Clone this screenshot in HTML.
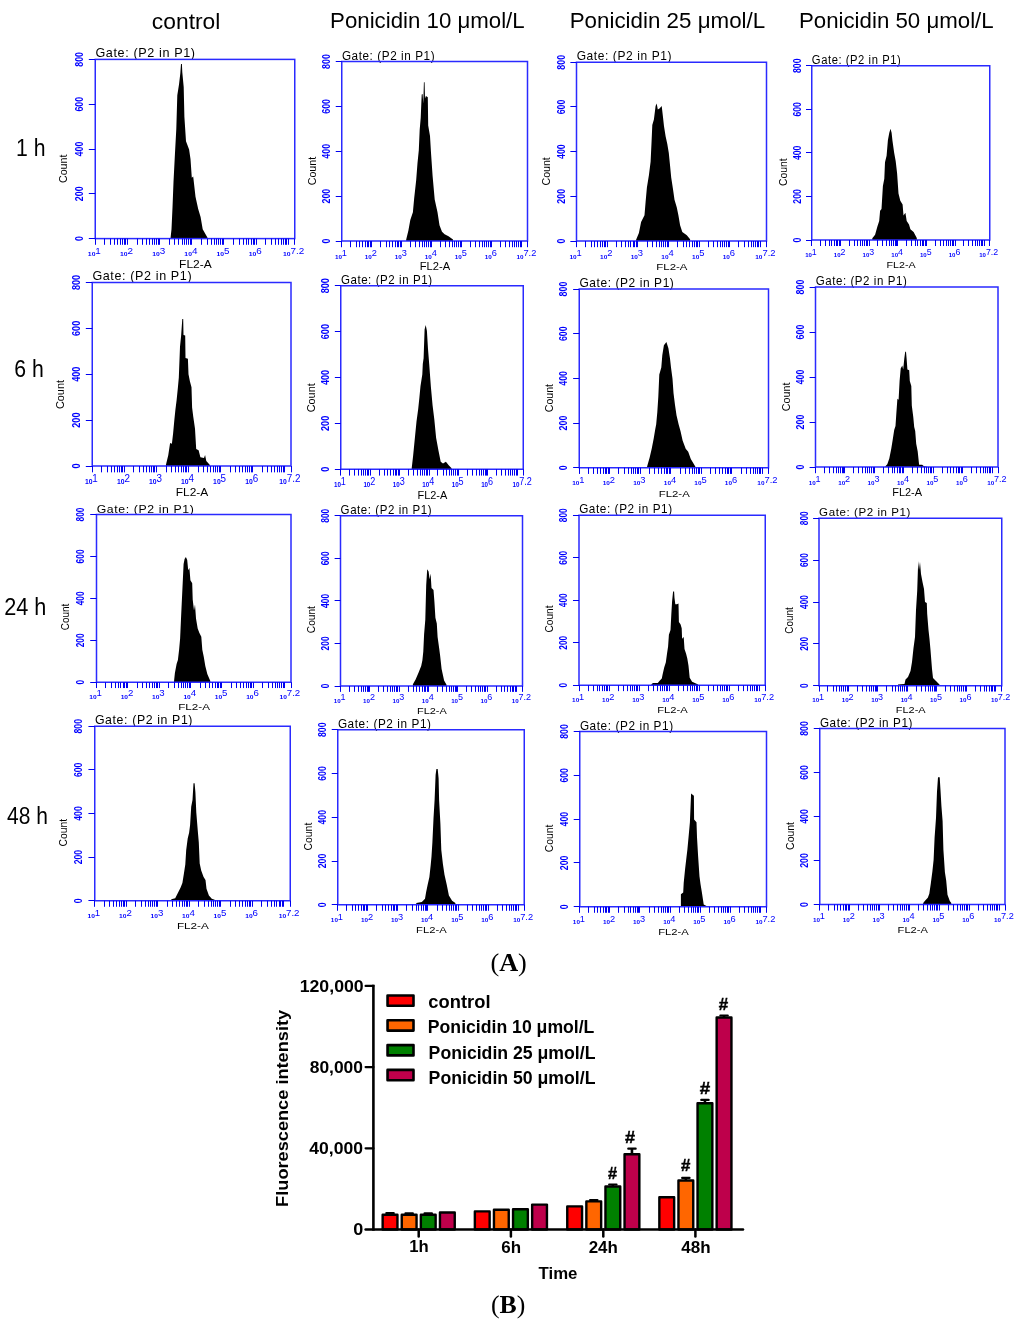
<!DOCTYPE html>
<html><head><meta charset="utf-8"><style>html,body{margin:0;padding:0;background:#fff;width:1024px;height:1329px;overflow:hidden}svg{display:block;will-change:transform}</style></head>
<body><svg width="1024" height="1329" viewBox="0 0 1024 1329" font-family='"Liberation Sans", sans-serif'>
<rect width="1024" height="1329" fill="#fff"/>
<text x="151.89" y="28.7" font-size="22.5" textLength="68.47" lengthAdjust="spacingAndGlyphs">control</text>
<text x="330.05" y="28" font-size="22.5" textLength="194.61" lengthAdjust="spacingAndGlyphs">Ponicidin 10 μmol/L</text>
<text x="569.65" y="28" font-size="22.5" textLength="195.54" lengthAdjust="spacingAndGlyphs">Ponicidin 25 μmol/L</text>
<text x="798.95" y="28" font-size="22.5" textLength="194.72" lengthAdjust="spacingAndGlyphs">Ponicidin 50 μmol/L</text>
<text x="16.01" y="156.2" font-size="23.3" textLength="29.48" lengthAdjust="spacingAndGlyphs">1 h</text>
<text x="14.21" y="376.8" font-size="23.3" textLength="29.53" lengthAdjust="spacingAndGlyphs">6 h</text>
<text x="4.13" y="615.1" font-size="23.3" textLength="42.22" lengthAdjust="spacingAndGlyphs">24 h</text>
<text x="7" y="823.9" font-size="23.3" textLength="40.89" lengthAdjust="spacingAndGlyphs">48 h</text>
<text x="299.67" y="991.6" font-weight="bold" font-size="17" textLength="64.03" lengthAdjust="spacingAndGlyphs">120,000</text>
<text x="309.71" y="1073" font-weight="bold" font-size="17" textLength="53.3" lengthAdjust="spacingAndGlyphs">80,000</text>
<text x="309.3" y="1154" font-weight="bold" font-size="17" textLength="53.72" lengthAdjust="spacingAndGlyphs">40,000</text>
<text x="353.34" y="1235.1" font-weight="bold" font-size="17" textLength="10.04" lengthAdjust="spacingAndGlyphs">0</text>
<text x="428.39" y="1007.8" font-weight="bold" font-size="17.5" textLength="62.12" lengthAdjust="spacingAndGlyphs">control</text>
<text x="427.85" y="1033" font-weight="bold" font-size="17.5" textLength="166.55" lengthAdjust="spacingAndGlyphs">Ponicidin 10 μmol/L</text>
<text x="428.62" y="1059" font-weight="bold" font-size="17.5" textLength="166.87" lengthAdjust="spacingAndGlyphs">Ponicidin 25 μmol/L</text>
<text x="428.62" y="1083.8" font-weight="bold" font-size="17.5" textLength="166.87" lengthAdjust="spacingAndGlyphs">Ponicidin 50 μmol/L</text>
<text x="538.57" y="1278.8" font-weight="bold" font-size="17" textLength="38.89" lengthAdjust="spacingAndGlyphs">Time</text>
<text x="409.29" y="1252.4" font-weight="bold" font-size="17" textLength="19.46" lengthAdjust="spacingAndGlyphs">1h</text>
<text x="501.25" y="1253" font-weight="bold" font-size="17" textLength="19.81" lengthAdjust="spacingAndGlyphs">6h</text>
<text x="588.71" y="1253" font-weight="bold" font-size="17" textLength="29.16" lengthAdjust="spacingAndGlyphs">24h</text>
<text x="681.37" y="1253.1" font-weight="bold" font-size="17" textLength="29.32" lengthAdjust="spacingAndGlyphs">48h</text>
<text transform="translate(287.9 1206.89) rotate(-90)" font-weight="bold" font-size="16.8" textLength="197.06" lengthAdjust="spacingAndGlyphs">Fluorescence intensity</text>
<text x="490.45" y="970.7" font-family='"Liberation Serif", serif' font-weight="bold" font-size="26" textLength="36.43" lengthAdjust="spacingAndGlyphs"><tspan font-weight="normal">(</tspan>A<tspan font-weight="normal">)</tspan></text>
<text x="490.97" y="1312.8" font-family='"Liberation Serif", serif' font-weight="bold" font-size="26" textLength="34.37" lengthAdjust="spacingAndGlyphs"><tspan font-weight="normal">(</tspan>B<tspan font-weight="normal">)</tspan></text>
<text stroke="#000" stroke-width="0.45" x="608" y="1178.55" font-weight="bold" font-size="17" textLength="9.08" lengthAdjust="spacingAndGlyphs">#</text>
<text stroke="#000" stroke-width="0.45" x="625.05" y="1143.2" font-weight="bold" font-size="17" textLength="10.05" lengthAdjust="spacingAndGlyphs">#</text>
<text stroke="#000" stroke-width="0.45" x="681" y="1171" font-weight="bold" font-size="17" textLength="9.36" lengthAdjust="spacingAndGlyphs">#</text>
<text stroke="#000" stroke-width="0.45" x="699.81" y="1093.7" font-weight="bold" font-size="17" textLength="10.45" lengthAdjust="spacingAndGlyphs">#</text>
<text stroke="#000" stroke-width="0.45" x="718.67" y="1009.6" font-weight="bold" font-size="17" textLength="9.41" lengthAdjust="spacingAndGlyphs">#</text>
<defs><g id="tp"><text transform="translate(-12.55 179.2) rotate(-90)" text-anchor="middle" font-size="11.8" font-weight="bold" textLength="4.95" lengthAdjust="spacingAndGlyphs" fill="#0000ff">0</text><text transform="translate(-12.55 134.4) rotate(-90)" text-anchor="middle" font-size="11.8" font-weight="bold" textLength="14.85" lengthAdjust="spacingAndGlyphs" fill="#0000ff">200</text><text transform="translate(-12.55 89.6) rotate(-90)" text-anchor="middle" font-size="11.8" font-weight="bold" textLength="14.85" lengthAdjust="spacingAndGlyphs" fill="#0000ff">400</text><text transform="translate(-12.55 44.8) rotate(-90)" text-anchor="middle" font-size="11.8" font-weight="bold" textLength="14.85" lengthAdjust="spacingAndGlyphs" fill="#0000ff">600</text><text transform="translate(-12.55 0) rotate(-90)" text-anchor="middle" font-size="11.8" font-weight="bold" textLength="14.85" lengthAdjust="spacingAndGlyphs" fill="#0000ff">800</text><text x="-7.4" y="196.9" font-size="6.2" font-weight="bold" textLength="7.6" lengthAdjust="spacingAndGlyphs" fill="#0000ff">10</text><text x="0.1" y="194.4" font-size="9.9" fill="#0000ff">1</text><text x="24.78" y="196.9" font-size="6.2" font-weight="bold" textLength="7.6" lengthAdjust="spacingAndGlyphs" fill="#0000ff">10</text><text x="32.28" y="194.4" font-size="9.9" fill="#0000ff">2</text><text x="56.95" y="196.9" font-size="6.2" font-weight="bold" textLength="7.6" lengthAdjust="spacingAndGlyphs" fill="#0000ff">10</text><text x="64.45" y="194.4" font-size="9.9" fill="#0000ff">3</text><text x="89.13" y="196.9" font-size="6.2" font-weight="bold" textLength="7.6" lengthAdjust="spacingAndGlyphs" fill="#0000ff">10</text><text x="96.63" y="194.4" font-size="9.9" fill="#0000ff">4</text><text x="121.31" y="196.9" font-size="6.2" font-weight="bold" textLength="7.6" lengthAdjust="spacingAndGlyphs" fill="#0000ff">10</text><text x="128.81" y="194.4" font-size="9.9" fill="#0000ff">5</text><text x="153.49" y="196.9" font-size="6.2" font-weight="bold" textLength="7.6" lengthAdjust="spacingAndGlyphs" fill="#0000ff">10</text><text x="160.99" y="194.4" font-size="9.9" fill="#0000ff">6</text><text x="187.7" y="196.9" font-size="6.2" font-weight="bold" textLength="7.6" lengthAdjust="spacingAndGlyphs" fill="#0000ff">10</text><text x="195.2" y="194.4" font-size="9.9" fill="#0000ff">7.2</text><text x="0.15" y="-2" font-size="12.6" textLength="99.6" lengthAdjust="spacing" fill="#000">Gate: (P2 in P1)</text><text transform="translate(-28.05 109.4) rotate(-90)" text-anchor="middle" font-size="11.2" textLength="28.4" lengthAdjust="spacingAndGlyphs" fill="#000">Count</text><text x="100.15" y="208.4" text-anchor="middle" font-size="10" textLength="32.6" lengthAdjust="spacingAndGlyphs" fill="#000">FL2-A</text></g></defs>
<polygon points="170.6,238.6 170.6,237.4 171.5,229.3 172.5,207.6 173.5,181.9 174.9,154.8 176.3,129.1 177.3,95.2 179,84.4 180.3,73.5 181,64.1 181.9,64.1 182.3,72.2 183.7,87.1 184.4,116.9 186,141.3 189.1,149.4 190.5,158.9 191.8,177.8 193.2,176.5 195.5,196.8 198.2,209 200.6,217.1 202.7,229.3 207.4,237.4 207.4,238.6" fill="#000"/>
<use href="#tp" transform="translate(95.25 59.4) scale(1.00000 1.00000)"/>
<rect x="95.25" y="59.4" width="199.5" height="179.2" fill="none" stroke="#2a2aff" stroke-width="1.5"/>
<polygon points="406.2,241 406.2,239.5 408.4,230.4 410.3,220.1 412.9,212.3 414.2,198.1 416.2,180 417.5,163.1 418.8,150.2 419.7,129.5 420.7,117.9 421.7,94.6 422.6,93.9 423.3,103.6 423.9,82.3 424.6,82.3 425,98.5 425.9,95.9 427.8,97.2 428.2,125.6 430,136 431,152.8 432.6,176.1 434.7,199.4 437.5,212.3 439.5,225.2 442,231.7 444.6,234.3 448.5,236.2 453,239.5 453,241" fill="#000"/>
<use href="#tp" transform="translate(341.75 61.5) scale(0.93108 1.00167)"/>
<rect x="341.75" y="61.5" width="185.75" height="179.5" fill="none" stroke="#2a2aff" stroke-width="1.5"/>
<polygon points="636.1,241 636.1,239.8 638.9,233.1 641.1,222 644.5,215.3 645.6,201.9 646.9,187.4 648.9,175.2 650.6,161.8 651.5,142.9 652.3,125.1 653.9,119.5 655.6,106.1 656.7,103.4 657.8,109.5 659.5,108.4 661.7,106.1 662.9,116.2 664,126.2 665.6,136.2 667.3,144 668.8,152.9 669.9,164 671.2,177.4 672.9,188.5 674.5,199.7 676.8,207.5 678.4,215.3 680.1,225.3 682.3,232 686.8,235.3 690.1,239.2 690.1,241" fill="#000"/>
<use href="#tp" transform="translate(576.5 62.25) scale(0.95238 0.99749)"/>
<rect x="576.5" y="62.25" width="190" height="178.75" fill="none" stroke="#2a2aff" stroke-width="1.5"/>
<polygon points="872.3,240 872.3,238.3 875.1,234.7 877.4,226.4 879.2,220.9 880.1,210.8 881.5,209 882,200.7 882.9,186.1 884.3,178.7 885,162.2 886.6,155.8 887.9,140.2 889.3,132.8 890.5,128.7 891.6,132.8 892.5,141.1 894.2,153 895.7,161.3 897.1,173.2 898.5,193.4 900.3,200.7 902.6,204.4 903.5,215.4 905.4,212.7 906.7,220.9 909,224.6 910.4,229.2 913.6,231.9 916.8,237.9 916.8,240" fill="#000"/>
<use href="#tp" transform="translate(811.75 65.75) scale(0.89223 0.97238)"/>
<rect x="811.75" y="65.75" width="178" height="174.25" fill="none" stroke="#2a2aff" stroke-width="1.5"/>
<polygon points="165.9,466 165.9,465 168.3,454.9 170.1,443.1 171.9,443.7 173.1,433.6 174.3,420.5 175.4,409.8 176.6,400.3 177.8,388.4 178.8,377.7 180,346.8 181.1,336.1 182.3,318.9 183.2,318.9 183.5,335 185.2,335.5 185.5,358.1 187.9,358.7 188.5,374.2 189.9,381.3 191.5,387.2 192.1,407.4 193.3,416.9 195,428.8 196.2,449 198.6,450.2 200.4,457.3 204,457.9 205.1,454.9 206.3,460.9 209.9,465 209.9,466" fill="#000"/>
<use href="#tp" transform="translate(92.25 282.5) scale(0.99624 1.02400)"/>
<rect x="92.25" y="282.5" width="198.75" height="183.5" fill="none" stroke="#2a2aff" stroke-width="1.5"/>
<polygon points="411.7,469.25 411.7,468.2 413.1,456.1 414.8,438.8 416.5,421.6 418.2,408.9 419.4,397.4 420.5,385.9 422.3,374.4 422.8,364 423.6,358.3 424.6,329.5 425.7,324.9 426.9,330.7 428,349.1 429.2,364 430.9,387 432.6,405.5 434.3,419.3 436.1,437.7 438.4,450.3 440.7,461.8 443,463.6 445.9,461.8 448.7,465.3 451.6,468.2 451.6,469.25" fill="#000"/>
<use href="#tp" transform="translate(340.75 285.75) scale(0.91479 1.02400)"/>
<rect x="340.75" y="285.75" width="182.5" height="183.5" fill="none" stroke="#2a2aff" stroke-width="1.5"/>
<polygon points="647.1,467.75 647.1,466.5 649.6,457.8 651.7,448.7 653.7,438.6 655.2,429.4 656.2,424.3 657.3,412.2 658.3,396.9 659.3,374.6 661.3,367.5 662.3,355.3 663.9,345.2 666.4,342.1 668.4,348.2 670,358.4 671,367.5 672.5,378.7 673.5,392.9 675,405 676.5,415.2 678.6,424.3 680.6,431.4 682.6,440.6 685.7,448.7 688.2,451.8 690.8,458.9 695.3,466.5 695.3,467.75" fill="#000"/>
<use href="#tp" transform="translate(579.25 289) scale(0.94862 0.99749)"/>
<rect x="579.25" y="289" width="189.25" height="178.75" fill="none" stroke="#2a2aff" stroke-width="1.5"/>
<polygon points="885.4,467 885.4,466.2 887.3,464.3 889.3,458.4 891.3,448.6 892.7,439.8 894.2,430 895.5,426.1 896.4,412.4 897.4,398.7 898.6,399.7 899.6,381.1 900.7,368.4 902.3,365.4 903.2,369.4 904.3,358.6 905.2,351.7 906,351.7 906.6,358.6 907.4,369.4 909.2,370.3 909.8,381.1 911.3,386 911.8,405.6 913.3,417.3 914.2,427.1 915.2,431 916.2,443.7 917.7,451.5 919.1,464.8 922.1,464.8 924,466.2 927,466.7 927,467" fill="#000"/>
<use href="#tp" transform="translate(815.5 287) scale(0.91479 1.00446)"/>
<rect x="815.5" y="287" width="182.5" height="180" fill="none" stroke="#2a2aff" stroke-width="1.5"/>
<polygon points="174,682.25 174,681.6 174.9,673 176.6,663.9 177.9,659.9 179.1,649.8 180.1,638.7 181.1,616.5 182.1,595.4 183.6,564.1 184.6,559.1 185.9,557.1 187.2,560.1 188.2,570.2 189.4,568.1 190.4,580.2 192.2,583.3 192.7,599.4 194,610.5 195,604.4 196,618.5 197.7,628.6 199.3,632.7 201.3,636.7 202.3,649.8 203.8,656.9 205.3,665.9 207.3,674 210.3,681 210.3,682.25" fill="#000"/>
<use href="#tp" transform="translate(96.5 514.5) scale(0.97494 0.93610)"/>
<rect x="96.5" y="514.5" width="194.5" height="167.75" fill="none" stroke="#2a2aff" stroke-width="1.5"/>
<polygon points="412.9,686 412.9,684.3 415.6,679.5 418.5,672.7 421.2,666 422.4,660.2 423.3,651.5 424.1,634.2 425.3,619.7 426.2,585 427.2,569.2 428.6,571.6 429.6,579.3 430.6,573.5 431.5,587.9 433.5,589.9 434.4,601.4 435.4,617.8 436.8,623.6 437.6,637.1 439.2,648.6 440.2,656.3 441.6,668.9 444.1,680.4 446.5,684.8 446.5,686" fill="#000"/>
<use href="#tp" transform="translate(340.5 515.75) scale(0.91228 0.95006)"/>
<rect x="340.5" y="515.75" width="182" height="170.25" fill="none" stroke="#2a2aff" stroke-width="1.5"/>
<polygon points="651.4,685.25 651.4,684.2 653,683 657.8,683 659.4,681 661.8,678.6 662.6,674.6 664.2,667.4 665.8,662.6 667,653.8 668.1,646.6 668.9,634.7 670.5,629.9 671.3,614.7 672.1,601.2 673.1,591.6 674.1,591.6 674.5,598 675.3,604.3 676.9,604.3 678.5,603.5 678.9,621.9 680.5,624.3 681.7,628.3 682.1,638.7 683.7,637.1 684.5,649 686.1,653.8 687.3,658.6 688.5,665.8 689.7,677.8 692.1,681.8 694.9,683 698.1,684.6 698.1,685.25" fill="#000"/>
<use href="#tp" transform="translate(579 515.25) scale(0.93358 0.94866)"/>
<rect x="579" y="515.25" width="186.25" height="170" fill="none" stroke="#2a2aff" stroke-width="1.5"/>
<polygon points="898,685.75 898,684.5 904.5,684 905.5,679.5 908,677 910.5,671 912,662 913.5,648 915,637 916,610 917.2,591 918.2,561 919,570 920,562 921,574 922.5,582 924,589 925,602 926.8,603 927.2,614 928.5,630 929.5,639 930.5,650 932,669 933,678 936,681 939.5,684.5 939.5,685.75" fill="#000"/>
<use href="#tp" transform="translate(819 518.25) scale(0.91604 0.93471)"/>
<rect x="819" y="518.25" width="182.75" height="167.5" fill="none" stroke="#2a2aff" stroke-width="1.5"/>
<polygon points="171.3,900.75 171.3,899.3 175.2,898.3 177.6,893.5 180.5,887.7 182.4,882.9 183.8,874.2 185.3,864.6 186.2,850.1 187.7,838.6 189.1,832.8 190.1,825.1 191.2,806.8 192.5,800 193.5,783.2 194.6,783.2 195.4,792.3 196.3,812.6 197.8,830.9 198.8,842.4 199.7,863.6 201.2,870.4 203.6,877.1 205.5,880 206.5,888.7 208.9,895.4 211.8,898.8 214.7,899.8 214.7,900.75" fill="#000"/>
<use href="#tp" transform="translate(94.75 726.25) scale(0.97995 0.97377)"/>
<rect x="94.75" y="726.25" width="195.5" height="174.5" fill="none" stroke="#2a2aff" stroke-width="1.5"/>
<polygon points="416.3,904.75 416.3,903 421.8,901.9 425,898.7 426.1,892.2 427.7,884.6 429.4,877 430.7,865 431.5,856.4 432.4,842.3 433.5,818.4 434.6,800 435.6,775 436.4,769 437.7,769 438.6,778.3 439.1,800 440.4,823.8 441.3,849.9 442.9,864 444.5,874.8 446.7,884.6 448.9,895.4 452.1,900.8 455.4,903 455.4,904.75" fill="#000"/>
<use href="#tp" transform="translate(337.75 729.75) scale(0.93484 0.97656)"/>
<rect x="337.75" y="729.75" width="186.5" height="175" fill="none" stroke="#2a2aff" stroke-width="1.5"/>
<polygon points="680.9,906.75 680.9,906.4 680.9,894.2 683.2,892.4 683.7,883 685.1,869 686.5,856.9 687.4,849.4 688.8,834.5 689.9,822.3 691.1,793.4 693.9,795.7 694.1,819.5 696.5,822.3 697,837.3 698.1,856 699.5,876.5 700.5,884 701.9,892.4 703.7,904.5 706.5,905.9 706.5,906.75" fill="#000"/>
<use href="#tp" transform="translate(579.75 731.5) scale(0.93609 0.97796)"/>
<rect x="579.75" y="731.5" width="186.75" height="175.25" fill="none" stroke="#2a2aff" stroke-width="1.5"/>
<polygon points="923.2,904.5 923.2,902.9 925.2,900.4 927.8,897.8 929.3,893.7 930.8,883.5 932.4,871.2 933.6,860 934.6,837.5 936,818.1 937,791.5 938,777.2 939.7,777.2 940.4,788.4 941.4,805.8 942.6,821.1 943.4,849.8 944.9,872.2 946.2,880.4 947.5,894.7 949.8,900.9 951.3,902.9 951.3,904.5" fill="#000"/>
<use href="#tp" transform="translate(819.75 728.5) scale(0.92857 0.98214)"/>
<rect x="819.75" y="728.5" width="185.25" height="176" fill="none" stroke="#2a2aff" stroke-width="1.5"/>
<path d="M95.5 238.6v6.2M104.5 238.6v6.2M110.5 238.6v6.2M114.5 238.6v6.2M117.5 238.6v6.2M120.5 238.6v6.2M122.5 238.6v6.2M124.5 238.6v6.2M125.5 238.6v6.2M127.5 238.6v6.2M137.5 238.6v6.2M142.5 238.6v6.2M146.5 238.6v6.2M149.5 238.6v6.2M152.5 238.6v6.2M154.5 238.6v6.2M156.5 238.6v6.2M158.5 238.6v6.2M159.5 238.6v6.2M169.5 238.6v6.2M174.5 238.6v6.2M178.5 238.6v6.2M182.5 238.6v6.2M184.5 238.6v6.2M186.5 238.6v6.2M188.5 238.6v6.2M190.5 238.6v6.2M191.5 238.6v6.2M201.5 238.6v6.2M207.5 238.6v6.2M211.5 238.6v6.2M214.5 238.6v6.2M216.5 238.6v6.2M218.5 238.6v6.2M220.5 238.6v6.2M222.5 238.6v6.2M223.5 238.6v6.2M233.5 238.6v6.2M239.5 238.6v6.2M243.5 238.6v6.2M246.5 238.6v6.2M248.5 238.6v6.2M251.5 238.6v6.2M253.5 238.6v6.2M254.5 238.6v6.2M256.5 238.6v6.2M265.5 238.6v6.2M271.5 238.6v6.2M275.5 238.6v6.2M278.5 238.6v6.2M281.5 238.6v6.2M283.5 238.6v6.2M285.5 238.6v6.2M286.5 238.6v6.2M288.5 238.6v6.2M294.5 238.6v6.2M88.8 238.5H95.25M88.8 193.5H95.25M88.8 149.5H95.25M88.8 104.5H95.25M88.8 59.5H95.25M341.5 241v6.21M350.5 241v6.21M356.5 241v6.21M359.5 241v6.21M362.5 241v6.21M365.5 241v6.21M367.5 241v6.21M368.5 241v6.21M370.5 241v6.21M371.5 241v6.21M380.5 241v6.21M386.5 241v6.21M389.5 241v6.21M392.5 241v6.21M395.5 241v6.21M397.5 241v6.21M398.5 241v6.21M400.5 241v6.21M401.5 241v6.21M410.5 241v6.21M415.5 241v6.21M419.5 241v6.21M422.5 241v6.21M424.5 241v6.21M426.5 241v6.21M428.5 241v6.21M430.5 241v6.21M431.5 241v6.21M440.5 241v6.21M445.5 241v6.21M449.5 241v6.21M452.5 241v6.21M454.5 241v6.21M456.5 241v6.21M458.5 241v6.21M460.5 241v6.21M461.5 241v6.21M470.5 241v6.21M475.5 241v6.21M479.5 241v6.21M482.5 241v6.21M484.5 241v6.21M486.5 241v6.21M488.5 241v6.21M490.5 241v6.21M491.5 241v6.21M500.5 241v6.21M505.5 241v6.21M509.5 241v6.21M512.5 241v6.21M514.5 241v6.21M516.5 241v6.21M518.5 241v6.21M520.5 241v6.21M521.5 241v6.21M527.5 241v6.21M335.74 241.5H341.75M335.74 196.5H341.75M335.74 151.5H341.75M335.74 106.5H341.75M335.74 61.5H341.75M576.5 241v6.18M585.5 241v6.18M591.5 241v6.18M594.5 241v6.18M597.5 241v6.18M600.5 241v6.18M602.5 241v6.18M604.5 241v6.18M605.5 241v6.18M607.5 241v6.18M616.5 241v6.18M621.5 241v6.18M625.5 241v6.18M628.5 241v6.18M630.5 241v6.18M633.5 241v6.18M634.5 241v6.18M636.5 241v6.18M637.5 241v6.18M647.5 241v6.18M652.5 241v6.18M656.5 241v6.18M659.5 241v6.18M661.5 241v6.18M663.5 241v6.18M665.5 241v6.18M667.5 241v6.18M668.5 241v6.18M677.5 241v6.18M683.5 241v6.18M686.5 241v6.18M689.5 241v6.18M692.5 241v6.18M694.5 241v6.18M696.5 241v6.18M697.5 241v6.18M699.5 241v6.18M708.5 241v6.18M713.5 241v6.18M717.5 241v6.18M720.5 241v6.18M722.5 241v6.18M724.5 241v6.18M726.5 241v6.18M728.5 241v6.18M729.5 241v6.18M738.5 241v6.18M744.5 241v6.18M748.5 241v6.18M751.5 241v6.18M753.5 241v6.18M755.5 241v6.18M757.5 241v6.18M758.5 241v6.18M760.5 241v6.18M766.5 241v6.18M570.36 241.5H576.5M570.36 196.5H576.5M570.36 151.5H576.5M570.36 106.5H576.5M570.36 62.5H576.5M811.5 240v6.03M820.5 240v6.03M825.5 240v6.03M829.5 240v6.03M831.5 240v6.03M834.5 240v6.03M836.5 240v6.03M837.5 240v6.03M839.5 240v6.03M840.5 240v6.03M849.5 240v6.03M854.5 240v6.03M857.5 240v6.03M860.5 240v6.03M862.5 240v6.03M864.5 240v6.03M866.5 240v6.03M867.5 240v6.03M869.5 240v6.03M877.5 240v6.03M882.5 240v6.03M886.5 240v6.03M889.5 240v6.03M891.5 240v6.03M893.5 240v6.03M895.5 240v6.03M896.5 240v6.03M897.5 240v6.03M906.5 240v6.03M911.5 240v6.03M915.5 240v6.03M917.5 240v6.03M920.5 240v6.03M922.5 240v6.03M923.5 240v6.03M925.5 240v6.03M926.5 240v6.03M935.5 240v6.03M940.5 240v6.03M943.5 240v6.03M946.5 240v6.03M948.5 240v6.03M950.5 240v6.03M952.5 240v6.03M953.5 240v6.03M955.5 240v6.03M963.5 240v6.03M968.5 240v6.03M972.5 240v6.03M975.5 240v6.03M977.5 240v6.03M979.5 240v6.03M981.5 240v6.03M982.5 240v6.03M984.5 240v6.03M989.5 240v6.03M806 240.5H811.75M806 196.5H811.75M806 152.5H811.75M806 109.5H811.75M806 65.5H811.75M92.5 466v6.35M101.5 466v6.35M107.5 466v6.35M111.5 466v6.35M114.5 466v6.35M117.5 466v6.35M119.5 466v6.35M121.5 466v6.35M122.5 466v6.35M124.5 466v6.35M133.5 466v6.35M139.5 466v6.35M143.5 466v6.35M146.5 466v6.35M149.5 466v6.35M151.5 466v6.35M153.5 466v6.35M154.5 466v6.35M156.5 466v6.35M166.5 466v6.35M171.5 466v6.35M175.5 466v6.35M178.5 466v6.35M181.5 466v6.35M183.5 466v6.35M185.5 466v6.35M186.5 466v6.35M188.5 466v6.35M198.5 466v6.35M203.5 466v6.35M207.5 466v6.35M210.5 466v6.35M213.5 466v6.35M215.5 466v6.35M217.5 466v6.35M219.5 466v6.35M220.5 466v6.35M230.5 466v6.35M235.5 466v6.35M239.5 466v6.35M242.5 466v6.35M245.5 466v6.35M247.5 466v6.35M249.5 466v6.35M251.5 466v6.35M252.5 466v6.35M262.5 466v6.35M267.5 466v6.35M271.5 466v6.35M274.5 466v6.35M277.5 466v6.35M279.5 466v6.35M281.5 466v6.35M283.5 466v6.35M284.5 466v6.35M291.5 466v6.35M85.82 466.5H92.25M85.82 420.5H92.25M85.82 374.5H92.25M85.82 328.5H92.25M85.82 282.5H92.25M340.5 469.25v6.35M349.5 469.25v6.35M354.5 469.25v6.35M358.5 469.25v6.35M361.5 469.25v6.35M363.5 469.25v6.35M365.5 469.25v6.35M367.5 469.25v6.35M368.5 469.25v6.35M370.5 469.25v6.35M379.5 469.25v6.35M384.5 469.25v6.35M387.5 469.25v6.35M390.5 469.25v6.35M393.5 469.25v6.35M395.5 469.25v6.35M396.5 469.25v6.35M398.5 469.25v6.35M399.5 469.25v6.35M408.5 469.25v6.35M413.5 469.25v6.35M417.5 469.25v6.35M420.5 469.25v6.35M422.5 469.25v6.35M424.5 469.25v6.35M426.5 469.25v6.35M427.5 469.25v6.35M429.5 469.25v6.35M437.5 469.25v6.35M443.5 469.25v6.35M446.5 469.25v6.35M449.5 469.25v6.35M451.5 469.25v6.35M453.5 469.25v6.35M455.5 469.25v6.35M457.5 469.25v6.35M458.5 469.25v6.35M467.5 469.25v6.35M472.5 469.25v6.35M476.5 469.25v6.35M479.5 469.25v6.35M481.5 469.25v6.35M483.5 469.25v6.35M485.5 469.25v6.35M486.5 469.25v6.35M487.5 469.25v6.35M496.5 469.25v6.35M501.5 469.25v6.35M505.5 469.25v6.35M508.5 469.25v6.35M510.5 469.25v6.35M512.5 469.25v6.35M514.5 469.25v6.35M516.5 469.25v6.35M517.5 469.25v6.35M523.5 469.25v6.35M334.85 469.5H340.75M334.85 423.5H340.75M334.85 377.5H340.75M334.85 331.5H340.75M334.85 285.5H340.75M579.5 467.75v6.18M588.5 467.75v6.18M593.5 467.75v6.18M597.5 467.75v6.18M600.5 467.75v6.18M603.5 467.75v6.18M605.5 467.75v6.18M606.5 467.75v6.18M608.5 467.75v6.18M609.5 467.75v6.18M618.5 467.75v6.18M624.5 467.75v6.18M628.5 467.75v6.18M631.5 467.75v6.18M633.5 467.75v6.18M635.5 467.75v6.18M637.5 467.75v6.18M638.5 467.75v6.18M640.5 467.75v6.18M649.5 467.75v6.18M654.5 467.75v6.18M658.5 467.75v6.18M661.5 467.75v6.18M664.5 467.75v6.18M666.5 467.75v6.18M667.5 467.75v6.18M669.5 467.75v6.18M670.5 467.75v6.18M680.5 467.75v6.18M685.5 467.75v6.18M689.5 467.75v6.18M692.5 467.75v6.18M694.5 467.75v6.18M696.5 467.75v6.18M698.5 467.75v6.18M699.5 467.75v6.18M701.5 467.75v6.18M710.5 467.75v6.18M715.5 467.75v6.18M719.5 467.75v6.18M722.5 467.75v6.18M725.5 467.75v6.18M727.5 467.75v6.18M728.5 467.75v6.18M730.5 467.75v6.18M731.5 467.75v6.18M741.5 467.75v6.18M746.5 467.75v6.18M750.5 467.75v6.18M753.5 467.75v6.18M755.5 467.75v6.18M757.5 467.75v6.18M759.5 467.75v6.18M760.5 467.75v6.18M762.5 467.75v6.18M768.5 467.75v6.18M573.13 467.5H579.25M573.13 423.5H579.25M573.13 378.5H579.25M573.13 333.5H579.25M573.13 289.5H579.25M815.5 467v6.23M824.5 467v6.23M829.5 467v6.23M833.5 467v6.23M836.5 467v6.23M838.5 467v6.23M840.5 467v6.23M842.5 467v6.23M843.5 467v6.23M844.5 467v6.23M853.5 467v6.23M858.5 467v6.23M862.5 467v6.23M865.5 467v6.23M867.5 467v6.23M869.5 467v6.23M871.5 467v6.23M873.5 467v6.23M874.5 467v6.23M883.5 467v6.23M888.5 467v6.23M892.5 467v6.23M894.5 467v6.23M897.5 467v6.23M899.5 467v6.23M900.5 467v6.23M902.5 467v6.23M903.5 467v6.23M912.5 467v6.23M917.5 467v6.23M921.5 467v6.23M924.5 467v6.23M926.5 467v6.23M928.5 467v6.23M930.5 467v6.23M931.5 467v6.23M933.5 467v6.23M942.5 467v6.23M947.5 467v6.23M950.5 467v6.23M953.5 467v6.23M956.5 467v6.23M958.5 467v6.23M959.5 467v6.23M961.5 467v6.23M962.5 467v6.23M971.5 467v6.23M976.5 467v6.23M980.5 467v6.23M983.5 467v6.23M985.5 467v6.23M987.5 467v6.23M989.5 467v6.23M990.5 467v6.23M992.5 467v6.23M998.5 467v6.23M809.6 467.5H815.5M809.6 422.5H815.5M809.6 377.5H815.5M809.6 332.5H815.5M809.6 287.5H815.5M96.5 682.25v5.8M105.5 682.25v5.8M111.5 682.25v5.8M115.5 682.25v5.8M118.5 682.25v5.8M120.5 682.25v5.8M123.5 682.25v5.8M124.5 682.25v5.8M126.5 682.25v5.8M127.5 682.25v5.8M137.5 682.25v5.8M142.5 682.25v5.8M146.5 682.25v5.8M149.5 682.25v5.8M152.5 682.25v5.8M154.5 682.25v5.8M156.5 682.25v5.8M157.5 682.25v5.8M159.5 682.25v5.8M168.5 682.25v5.8M174.5 682.25v5.8M178.5 682.25v5.8M181.5 682.25v5.8M183.5 682.25v5.8M185.5 682.25v5.8M187.5 682.25v5.8M189.5 682.25v5.8M190.5 682.25v5.8M200.5 682.25v5.8M205.5 682.25v5.8M209.5 682.25v5.8M212.5 682.25v5.8M215.5 682.25v5.8M217.5 682.25v5.8M218.5 682.25v5.8M220.5 682.25v5.8M221.5 682.25v5.8M231.5 682.25v5.8M236.5 682.25v5.8M240.5 682.25v5.8M243.5 682.25v5.8M246.5 682.25v5.8M248.5 682.25v5.8M250.5 682.25v5.8M251.5 682.25v5.8M253.5 682.25v5.8M262.5 682.25v5.8M268.5 682.25v5.8M272.5 682.25v5.8M275.5 682.25v5.8M277.5 682.25v5.8M279.5 682.25v5.8M281.5 682.25v5.8M283.5 682.25v5.8M284.5 682.25v5.8M291.5 682.25v5.8M90.21 682.5H96.5M90.21 640.5H96.5M90.21 598.5H96.5M90.21 556.5H96.5M90.21 514.5H96.5M340.5 686v5.89M349.5 686v5.89M354.5 686v5.89M358.5 686v5.89M361.5 686v5.89M363.5 686v5.89M365.5 686v5.89M367.5 686v5.89M368.5 686v5.89M369.5 686v5.89M378.5 686v5.89M383.5 686v5.89M387.5 686v5.89M390.5 686v5.89M392.5 686v5.89M394.5 686v5.89M396.5 686v5.89M397.5 686v5.89M399.5 686v5.89M408.5 686v5.89M413.5 686v5.89M416.5 686v5.89M419.5 686v5.89M422.5 686v5.89M424.5 686v5.89M425.5 686v5.89M427.5 686v5.89M428.5 686v5.89M437.5 686v5.89M442.5 686v5.89M446.5 686v5.89M449.5 686v5.89M451.5 686v5.89M453.5 686v5.89M455.5 686v5.89M456.5 686v5.89M457.5 686v5.89M466.5 686v5.89M471.5 686v5.89M475.5 686v5.89M478.5 686v5.89M480.5 686v5.89M482.5 686v5.89M484.5 686v5.89M485.5 686v5.89M487.5 686v5.89M496.5 686v5.89M501.5 686v5.89M504.5 686v5.89M507.5 686v5.89M510.5 686v5.89M512.5 686v5.89M513.5 686v5.89M515.5 686v5.89M516.5 686v5.89M522.5 686v5.89M334.62 686.5H340.5M334.62 643.5H340.5M334.62 600.5H340.5M334.62 558.5H340.5M334.62 515.5H340.5M579.5 685.25v5.88M588.5 685.25v5.88M593.5 685.25v5.88M597.5 685.25v5.88M599.5 685.25v5.88M602.5 685.25v5.88M604.5 685.25v5.88M606.5 685.25v5.88M607.5 685.25v5.88M609.5 685.25v5.88M618.5 685.25v5.88M623.5 685.25v5.88M627.5 685.25v5.88M630.5 685.25v5.88M632.5 685.25v5.88M634.5 685.25v5.88M636.5 685.25v5.88M637.5 685.25v5.88M639.5 685.25v5.88M648.5 685.25v5.88M653.5 685.25v5.88M657.5 685.25v5.88M660.5 685.25v5.88M662.5 685.25v5.88M664.5 685.25v5.88M666.5 685.25v5.88M667.5 685.25v5.88M669.5 685.25v5.88M678.5 685.25v5.88M683.5 685.25v5.88M687.5 685.25v5.88M690.5 685.25v5.88M692.5 685.25v5.88M694.5 685.25v5.88M696.5 685.25v5.88M697.5 685.25v5.88M699.5 685.25v5.88M708.5 685.25v5.88M713.5 685.25v5.88M717.5 685.25v5.88M720.5 685.25v5.88M722.5 685.25v5.88M724.5 685.25v5.88M726.5 685.25v5.88M727.5 685.25v5.88M729.5 685.25v5.88M738.5 685.25v5.88M743.5 685.25v5.88M747.5 685.25v5.88M750.5 685.25v5.88M752.5 685.25v5.88M754.5 685.25v5.88M756.5 685.25v5.88M757.5 685.25v5.88M759.5 685.25v5.88M765.5 685.25v5.88M572.98 685.5H579M572.98 642.5H579M572.98 600.5H579M572.98 557.5H579M572.98 515.5H579M819.5 685.75v5.8M827.5 685.75v5.8M833.5 685.75v5.8M836.5 685.75v5.8M839.5 685.75v5.8M841.5 685.75v5.8M843.5 685.75v5.8M845.5 685.75v5.8M847.5 685.75v5.8M848.5 685.75v5.8M857.5 685.75v5.8M862.5 685.75v5.8M866.5 685.75v5.8M869.5 685.75v5.8M871.5 685.75v5.8M873.5 685.75v5.8M875.5 685.75v5.8M876.5 685.75v5.8M877.5 685.75v5.8M886.5 685.75v5.8M892.5 685.75v5.8M895.5 685.75v5.8M898.5 685.75v5.8M900.5 685.75v5.8M902.5 685.75v5.8M904.5 685.75v5.8M906.5 685.75v5.8M907.5 685.75v5.8M916.5 685.75v5.8M921.5 685.75v5.8M925.5 685.75v5.8M928.5 685.75v5.8M930.5 685.75v5.8M932.5 685.75v5.8M934.5 685.75v5.8M935.5 685.75v5.8M936.5 685.75v5.8M945.5 685.75v5.8M950.5 685.75v5.8M954.5 685.75v5.8M957.5 685.75v5.8M959.5 685.75v5.8M961.5 685.75v5.8M963.5 685.75v5.8M965.5 685.75v5.8M966.5 685.75v5.8M975.5 685.75v5.8M980.5 685.75v5.8M984.5 685.75v5.8M986.5 685.75v5.8M989.5 685.75v5.8M991.5 685.75v5.8M992.5 685.75v5.8M994.5 685.75v5.8M995.5 685.75v5.8M1001.5 685.75v5.8M813.09 685.5H819M813.09 643.5H819M813.09 602.5H819M813.09 560.5H819M813.09 518.5H819M94.5 900.75v6.04M104.5 900.75v6.04M109.5 900.75v6.04M113.5 900.75v6.04M116.5 900.75v6.04M119.5 900.75v6.04M121.5 900.75v6.04M123.5 900.75v6.04M124.5 900.75v6.04M126.5 900.75v6.04M135.5 900.75v6.04M141.5 900.75v6.04M145.5 900.75v6.04M148.5 900.75v6.04M150.5 900.75v6.04M152.5 900.75v6.04M154.5 900.75v6.04M156.5 900.75v6.04M157.5 900.75v6.04M167.5 900.75v6.04M172.5 900.75v6.04M176.5 900.75v6.04M179.5 900.75v6.04M182.5 900.75v6.04M184.5 900.75v6.04M186.5 900.75v6.04M187.5 900.75v6.04M189.5 900.75v6.04M198.5 900.75v6.04M204.5 900.75v6.04M208.5 900.75v6.04M211.5 900.75v6.04M213.5 900.75v6.04M215.5 900.75v6.04M217.5 900.75v6.04M219.5 900.75v6.04M220.5 900.75v6.04M230.5 900.75v6.04M235.5 900.75v6.04M239.5 900.75v6.04M242.5 900.75v6.04M245.5 900.75v6.04M247.5 900.75v6.04M249.5 900.75v6.04M250.5 900.75v6.04M252.5 900.75v6.04M261.5 900.75v6.04M267.5 900.75v6.04M271.5 900.75v6.04M274.5 900.75v6.04M276.5 900.75v6.04M279.5 900.75v6.04M280.5 900.75v6.04M282.5 900.75v6.04M283.5 900.75v6.04M290.5 900.75v6.04M88.43 900.5H94.75M88.43 857.5H94.75M88.43 813.5H94.75M88.43 769.5H94.75M88.43 726.5H94.75M337.5 904.75v6.05M346.5 904.75v6.05M352.5 904.75v6.05M355.5 904.75v6.05M358.5 904.75v6.05M361.5 904.75v6.05M363.5 904.75v6.05M364.5 904.75v6.05M366.5 904.75v6.05M367.5 904.75v6.05M376.5 904.75v6.05M382.5 904.75v6.05M385.5 904.75v6.05M388.5 904.75v6.05M391.5 904.75v6.05M393.5 904.75v6.05M394.5 904.75v6.05M396.5 904.75v6.05M397.5 904.75v6.05M406.5 904.75v6.05M412.5 904.75v6.05M416.5 904.75v6.05M418.5 904.75v6.05M421.5 904.75v6.05M423.5 904.75v6.05M425.5 904.75v6.05M426.5 904.75v6.05M427.5 904.75v6.05M437.5 904.75v6.05M442.5 904.75v6.05M446.5 904.75v6.05M449.5 904.75v6.05M451.5 904.75v6.05M453.5 904.75v6.05M455.5 904.75v6.05M456.5 904.75v6.05M458.5 904.75v6.05M467.5 904.75v6.05M472.5 904.75v6.05M476.5 904.75v6.05M479.5 904.75v6.05M481.5 904.75v6.05M483.5 904.75v6.05M485.5 904.75v6.05M486.5 904.75v6.05M488.5 904.75v6.05M497.5 904.75v6.05M502.5 904.75v6.05M506.5 904.75v6.05M509.5 904.75v6.05M511.5 904.75v6.05M513.5 904.75v6.05M515.5 904.75v6.05M516.5 904.75v6.05M518.5 904.75v6.05M524.5 904.75v6.05M331.72 904.5H337.75M331.72 861.5H337.75M331.72 817.5H337.75M331.72 773.5H337.75M331.72 729.5H337.75M579.5 906.75v6.06M588.5 906.75v6.06M594.5 906.75v6.06M597.5 906.75v6.06M600.5 906.75v6.06M603.5 906.75v6.06M605.5 906.75v6.06M606.5 906.75v6.06M608.5 906.75v6.06M609.5 906.75v6.06M618.5 906.75v6.06M624.5 906.75v6.06M628.5 906.75v6.06M630.5 906.75v6.06M633.5 906.75v6.06M635.5 906.75v6.06M637.5 906.75v6.06M638.5 906.75v6.06M639.5 906.75v6.06M649.5 906.75v6.06M654.5 906.75v6.06M658.5 906.75v6.06M661.5 906.75v6.06M663.5 906.75v6.06M665.5 906.75v6.06M667.5 906.75v6.06M668.5 906.75v6.06M670.5 906.75v6.06M679.5 906.75v6.06M684.5 906.75v6.06M688.5 906.75v6.06M691.5 906.75v6.06M693.5 906.75v6.06M695.5 906.75v6.06M697.5 906.75v6.06M698.5 906.75v6.06M700.5 906.75v6.06M709.5 906.75v6.06M714.5 906.75v6.06M718.5 906.75v6.06M721.5 906.75v6.06M723.5 906.75v6.06M725.5 906.75v6.06M727.5 906.75v6.06M728.5 906.75v6.06M730.5 906.75v6.06M739.5 906.75v6.06M744.5 906.75v6.06M748.5 906.75v6.06M751.5 906.75v6.06M753.5 906.75v6.06M755.5 906.75v6.06M757.5 906.75v6.06M759.5 906.75v6.06M760.5 906.75v6.06M766.5 906.75v6.06M573.71 906.5H579.75M573.71 862.5H579.75M573.71 819.5H579.75M573.71 775.5H579.75M573.71 731.5H579.75M819.5 904.5v6.09M828.5 904.5v6.09M834.5 904.5v6.09M837.5 904.5v6.09M840.5 904.5v6.09M843.5 904.5v6.09M845.5 904.5v6.09M846.5 904.5v6.09M848.5 904.5v6.09M849.5 904.5v6.09M858.5 904.5v6.09M863.5 904.5v6.09M867.5 904.5v6.09M870.5 904.5v6.09M872.5 904.5v6.09M874.5 904.5v6.09M876.5 904.5v6.09M878.5 904.5v6.09M879.5 904.5v6.09M888.5 904.5v6.09M893.5 904.5v6.09M897.5 904.5v6.09M900.5 904.5v6.09M902.5 904.5v6.09M904.5 904.5v6.09M906.5 904.5v6.09M908.5 904.5v6.09M909.5 904.5v6.09M918.5 904.5v6.09M923.5 904.5v6.09M927.5 904.5v6.09M930.5 904.5v6.09M932.5 904.5v6.09M934.5 904.5v6.09M936.5 904.5v6.09M937.5 904.5v6.09M939.5 904.5v6.09M948.5 904.5v6.09M953.5 904.5v6.09M957.5 904.5v6.09M960.5 904.5v6.09M962.5 904.5v6.09M964.5 904.5v6.09M966.5 904.5v6.09M967.5 904.5v6.09M969.5 904.5v6.09M978.5 904.5v6.09M983.5 904.5v6.09M987.5 904.5v6.09M990.5 904.5v6.09M992.5 904.5v6.09M994.5 904.5v6.09M996.5 904.5v6.09M997.5 904.5v6.09M999.5 904.5v6.09M1005.5 904.5v6.09M813.76 904.5H819.75M813.76 860.5H819.75M813.76 816.5H819.75M813.76 772.5H819.75M813.76 728.5H819.75" stroke="#0000f0" stroke-width="1" fill="none"/>
<line x1="390.05" y1="1213.2" x2="390.05" y2="1214.5" stroke="#000" stroke-width="2.6"/>
<line x1="386.35" y1="1213.2" x2="393.75" y2="1213.2" stroke="#000" stroke-width="2.2" stroke-linecap="round"/>
<rect x="382.65" y="1214.7" width="14.8" height="14.8" fill="#ff0000" stroke="#000" stroke-width="2.4" stroke-linejoin="round"/>
<line x1="409.15" y1="1213.4" x2="409.15" y2="1214.5" stroke="#000" stroke-width="2.6"/>
<line x1="405.45" y1="1213.4" x2="412.85" y2="1213.4" stroke="#000" stroke-width="2.2" stroke-linecap="round"/>
<rect x="401.75" y="1214.7" width="14.8" height="14.8" fill="#ff6600" stroke="#000" stroke-width="2.4" stroke-linejoin="round"/>
<line x1="428.25" y1="1213.4" x2="428.25" y2="1214.5" stroke="#000" stroke-width="2.6"/>
<line x1="424.55" y1="1213.4" x2="431.95" y2="1213.4" stroke="#000" stroke-width="2.2" stroke-linecap="round"/>
<rect x="420.85" y="1214.7" width="14.8" height="14.8" fill="#008000" stroke="#000" stroke-width="2.4" stroke-linejoin="round"/>
<rect x="439.95" y="1212.5" width="14.8" height="17" fill="#be004b" stroke="#000" stroke-width="2.4" stroke-linejoin="round"/>
<rect x="474.85" y="1211.4" width="14.8" height="18.1" fill="#ff0000" stroke="#000" stroke-width="2.4" stroke-linejoin="round"/>
<rect x="493.95" y="1209.7" width="14.8" height="19.8" fill="#ff6600" stroke="#000" stroke-width="2.4" stroke-linejoin="round"/>
<rect x="513.05" y="1209.2" width="14.8" height="20.3" fill="#008000" stroke="#000" stroke-width="2.4" stroke-linejoin="round"/>
<rect x="532.15" y="1204.6" width="14.8" height="24.9" fill="#be004b" stroke="#000" stroke-width="2.4" stroke-linejoin="round"/>
<rect x="567.25" y="1206.4" width="14.8" height="23.1" fill="#ff0000" stroke="#000" stroke-width="2.4" stroke-linejoin="round"/>
<line x1="593.75" y1="1200.1" x2="593.75" y2="1201.2" stroke="#000" stroke-width="2.6"/>
<line x1="590.05" y1="1200.1" x2="597.45" y2="1200.1" stroke="#000" stroke-width="2.2" stroke-linecap="round"/>
<rect x="586.35" y="1201.4" width="14.8" height="28.1" fill="#ff6600" stroke="#000" stroke-width="2.4" stroke-linejoin="round"/>
<line x1="612.85" y1="1184.5" x2="612.85" y2="1186.3" stroke="#000" stroke-width="2.6"/>
<line x1="609.15" y1="1184.5" x2="616.55" y2="1184.5" stroke="#000" stroke-width="2.2" stroke-linecap="round"/>
<rect x="605.45" y="1186.5" width="14.8" height="43" fill="#008000" stroke="#000" stroke-width="2.4" stroke-linejoin="round"/>
<line x1="631.95" y1="1148.7" x2="631.95" y2="1154.1" stroke="#000" stroke-width="2.6"/>
<line x1="628.25" y1="1148.7" x2="635.65" y2="1148.7" stroke="#000" stroke-width="2.2" stroke-linecap="round"/>
<rect x="624.55" y="1154.3" width="14.8" height="75.2" fill="#be004b" stroke="#000" stroke-width="2.4" stroke-linejoin="round"/>
<rect x="659.35" y="1197.3" width="14.8" height="32.2" fill="#ff0000" stroke="#000" stroke-width="2.4" stroke-linejoin="round"/>
<line x1="685.85" y1="1177.9" x2="685.85" y2="1180.3" stroke="#000" stroke-width="2.6"/>
<line x1="682.15" y1="1177.9" x2="689.55" y2="1177.9" stroke="#000" stroke-width="2.2" stroke-linecap="round"/>
<rect x="678.45" y="1180.5" width="14.8" height="49" fill="#ff6600" stroke="#000" stroke-width="2.4" stroke-linejoin="round"/>
<line x1="704.95" y1="1099.9" x2="704.95" y2="1103" stroke="#000" stroke-width="2.6"/>
<line x1="701.25" y1="1099.9" x2="708.65" y2="1099.9" stroke="#000" stroke-width="2.2" stroke-linecap="round"/>
<rect x="697.55" y="1103.2" width="14.8" height="126.3" fill="#008000" stroke="#000" stroke-width="2.4" stroke-linejoin="round"/>
<line x1="724.05" y1="1015.5" x2="724.05" y2="1017.3" stroke="#000" stroke-width="2.6"/>
<line x1="720.35" y1="1015.5" x2="727.75" y2="1015.5" stroke="#000" stroke-width="2.2" stroke-linecap="round"/>
<rect x="716.65" y="1017.5" width="14.8" height="212" fill="#be004b" stroke="#000" stroke-width="2.4" stroke-linejoin="round"/>
<line x1="373.4" y1="984.7" x2="373.4" y2="1230.7" stroke="#000" stroke-width="2.6"/>
<line x1="365.6" y1="1229.5" x2="743" y2="1229.5" stroke="#000" stroke-width="2.5" stroke-linecap="round"/>
<line x1="365.6" y1="1148.3" x2="373.4" y2="1148.3" stroke="#000" stroke-width="2.2" stroke-linecap="round"/>
<line x1="365.6" y1="1067.1" x2="373.4" y2="1067.1" stroke="#000" stroke-width="2.2" stroke-linecap="round"/>
<line x1="365.6" y1="985.9" x2="373.4" y2="985.9" stroke="#000" stroke-width="2.2" stroke-linecap="round"/>
<line x1="418.7" y1="1229.5" x2="418.7" y2="1236.6" stroke="#000" stroke-width="2.5" stroke-linecap="round"/>
<line x1="510.9" y1="1229.5" x2="510.9" y2="1236.6" stroke="#000" stroke-width="2.5" stroke-linecap="round"/>
<line x1="603.3" y1="1229.5" x2="603.3" y2="1236.6" stroke="#000" stroke-width="2.5" stroke-linecap="round"/>
<line x1="695.4" y1="1229.5" x2="695.4" y2="1236.6" stroke="#000" stroke-width="2.5" stroke-linecap="round"/>
<rect x="387.55" y="995.5" width="25.95" height="10.3" fill="#ff0000" stroke="#000" stroke-width="2.6" stroke-linejoin="round"/>
<rect x="387.55" y="1020.3" width="25.95" height="10.3" fill="#ff6600" stroke="#000" stroke-width="2.6" stroke-linejoin="round"/>
<rect x="387.55" y="1045.1" width="25.95" height="10.3" fill="#008000" stroke="#000" stroke-width="2.6" stroke-linejoin="round"/>
<rect x="387.55" y="1069.9" width="25.95" height="10.3" fill="#be004b" stroke="#000" stroke-width="2.6" stroke-linejoin="round"/>
</svg></body></html>
